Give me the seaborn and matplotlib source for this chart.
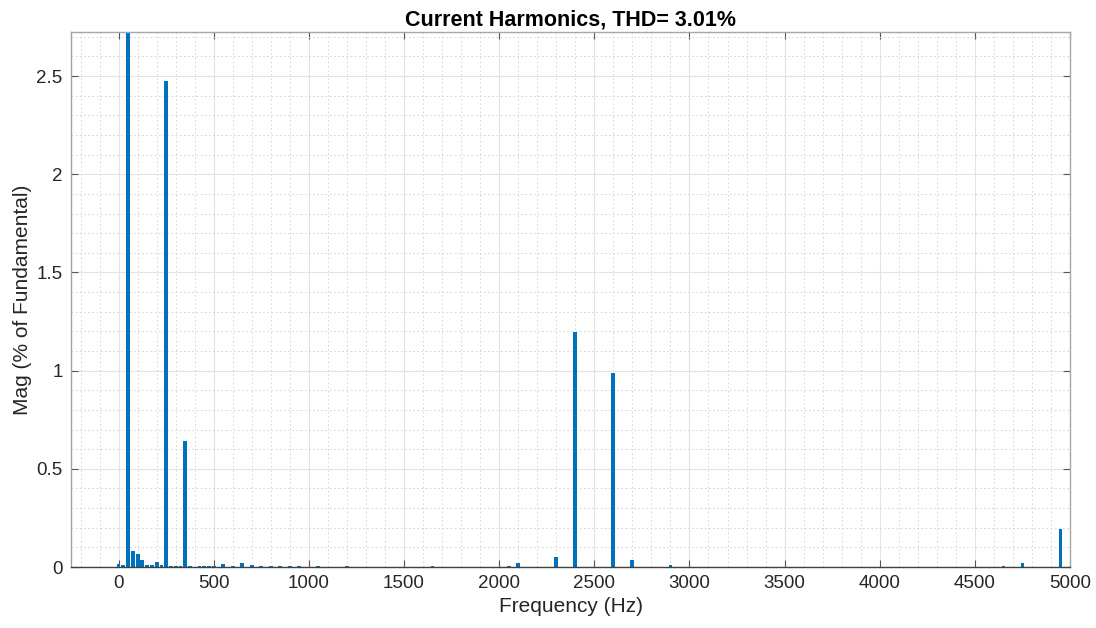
import numpy as np
import pandas as pd
import matplotlib
matplotlib.use("Agg")
import matplotlib.pyplot as plt
from matplotlib.ticker import MultipleLocator
import seaborn as sns

# Harmonic spectrum (25 Hz resolution), magnitude in % of the fundamental
freq_hz = [0, 25, 50, 75, 100, 125, 150, 175, 200, 225, 250, 275, 300, 325,
           350, 375, 425, 450, 475, 500, 550, 600, 650, 700, 750, 800, 850,
           900, 950, 1050, 1150, 1200, 1450, 1650, 1850, 2050, 2100, 2300,
           2400, 2600, 2700, 2900, 4650, 4750, 4950]
mag_pct = [0.013, 0.012, 100.0, 0.080, 0.066, 0.038, 0.010, 0.010, 0.025,
           0.008, 2.475, 0.004, 0.004, 0.004, 0.642, 0.003, 0.003, 0.006,
           0.005, 0.004, 0.013, 0.003, 0.018, 0.008, 0.004, 0.005, 0.004,
           0.004, 0.003, 0.003, 0.002, 0.003, 0.002, 0.003, 0.002, 0.003,
           0.019, 0.049, 1.197, 0.988, 0.036, 0.010, 0.007, 0.022, 0.193]

title_text = "Current Harmonics, THD= 3.01%"
x_label = "Frequency (Hz)"
y_label = "Mag (% of Fundamental)"
x_ticks = list(range(0, 5001, 500))
y_ticks = [0, 0.5, 1, 1.5, 2, 2.5]
y_tick_labels = ["0", "0.5", "1", "1.5", "2", "2.5"]

sns.set_theme(style="white")
plt.rcParams["font.family"] = ["Liberation Sans", "DejaVu Sans"]

df = pd.DataFrame({"freq": freq_hz, "mag": mag_pct})

fig = plt.figure(figsize=(10.96, 6.28), dpi=100)
ax = fig.add_axes([0.0648, 0.0971, 0.9115, 0.8519])

sns.barplot(data=df, x="freq", y="mag", native_scale=True, width=0.8,
            color="#0072BD", saturation=1, errorbar=None, linewidth=0,
            ax=ax)

ax.set_xlim(-250, 5000)
ax.set_ylim(0, 2.724)
ax.set_xticks(x_ticks)
ax.set_xticklabels([str(t) for t in x_ticks])
ax.set_yticks(y_ticks)
ax.set_yticklabels(y_tick_labels)
ax.xaxis.set_minor_locator(MultipleLocator(100))
ax.yaxis.set_minor_locator(MultipleLocator(0.1))

ax.set_axisbelow(True)
ax.grid(True, which="major", color="#e3e3e3", linewidth=0.8, linestyle="-")
ax.grid(True, which="minor", color="#d0d0d0", linewidth=0.6,
        linestyle=(0, (2, 3)))

ax.tick_params(axis="both", which="major", direction="in", length=5,
               width=0.8, color="#555555", labelsize=13.5,
               labelcolor="#262626", top=True, right=True, bottom=True,
               left=True, pad=6)
ax.tick_params(axis="both", which="minor", length=0)

for side, col in [("bottom", "#404040"), ("left", "#a0a0a0"),
                  ("top", "#a8a8a8"), ("right", "#a8a8a8")]:
    ax.spines[side].set_visible(True)
    ax.spines[side].set_color(col)
    ax.spines[side].set_linewidth(1.0)

ax.set_xlabel(x_label, fontsize=15, color="#262626", labelpad=3)
ax.set_ylabel(y_label, fontsize=15, color="#262626", labelpad=3)
ax.set_title(title_text, fontsize=15.5, fontweight="bold", color="black",
             pad=5)

fig.savefig("out.png", dpi=100)
